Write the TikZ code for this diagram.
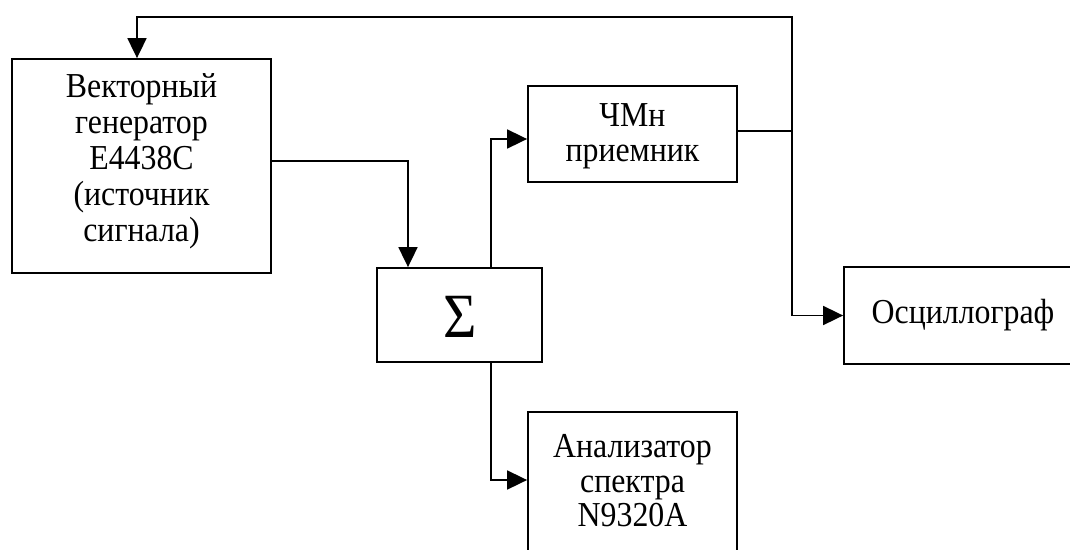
\documentclass[tikz,border=0pt]{standalone}
\usepackage{fontspec}
\setmainfont{Liberation Serif}[FakeStretch=0.91]
\usetikzlibrary{arrows.meta}
\begin{document}
\begin{tikzpicture}[x=1pt,y=-1pt,
  box/.style={draw, line width=1.8pt, inner sep=0pt},
  txt/.style={inner sep=0pt, align=center, anchor=base, font=\fontsize{35}{36}\selectfont},
  conn/.style={line width=1.8pt},
  arr/.style={conn, -{Triangle[length=20pt,width=19pt]}}]
\useasboundingbox (0,0) rectangle (1070,549);
\clip (0,0) rectangle (1070,549);
\node[box, minimum width=259pt, minimum height=214pt] (gen) at (141.5,166) {};
\node[box, minimum width=209pt, minimum height=96pt] (rec) at (632.5,134) {};
\node[box, minimum width=165pt, minimum height=94pt] (sum) at (459.5,315) {};
\node[box, minimum width=238pt, minimum height=97pt] (osc) at (963,315.5) {};
\node[box, minimum width=209pt, minimum height=150pt] (an) at (632.5,487) {};
\node[txt] (gent) at (141.5,241.7) {Векторный\\генератор\\E4438C\\(источник\\сигнала)};
\node[txt, font=\fontsize{35}{35}\selectfont] (rect) at (632.5,161.7) {ЧМн\\приемник};
\node[txt, font=\fontsize{63}{63}\selectfont] (sumt) at (460,337) {Σ};
\node[txt] (osct) at (963,323) {Осциллограф};
\node[txt, font=\fontsize{35}{34.7}\selectfont] (ant) at (632.5,526.7) {Анализатор\\спектра\\N9320A};
\coordinate (j) at (792,131);
\coordinate (tr) at (792,17);
\coordinate (tl) at (137,17);
\coordinate (g1) at (408,161);
\coordinate (s1) at (491,139);
\coordinate (s2) at (491,480);
\draw[conn] (rec.east |- j) -- (j);
\draw[arr] (j) |- (osc.west);
\draw[arr] (j) -- (tr) -- (tl) -- (tl |- gen.north);
\draw[arr] (gen.east |- g1) -- (g1) -- (g1 |- sum.north);
\draw[arr] (s1 |- sum.north) -- (s1) -- (s1 -| rec.west);
\draw[arr] (s2 |- sum.south) -- (s2) -- (s2 -| an.west);
\end{tikzpicture}
\end{document}
